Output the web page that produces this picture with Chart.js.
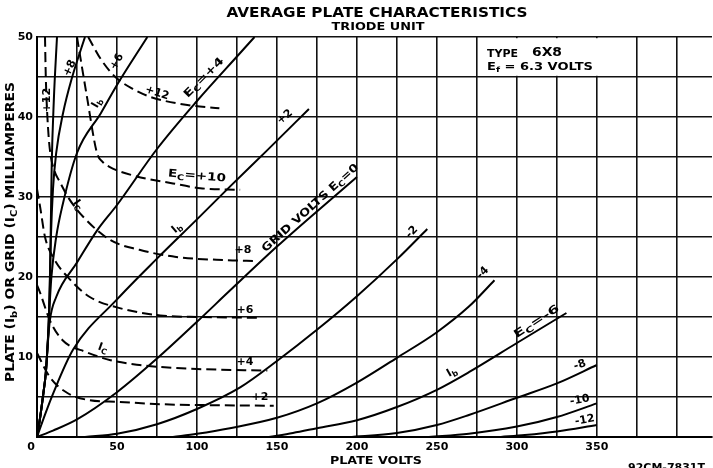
<!DOCTYPE html>
<html><head><meta charset="utf-8">
<script src="https://cdn.jsdelivr.net/npm/chart.js@4/dist/chart.umd.min.js"></script>
<style>html,body{margin:0;padding:0;background:#fff;overflow:hidden}</style>
</head><body>
<canvas id="c" width="713" height="468"></canvas>
<script>
// ---- axis ticks ----
const gridVolts = [0,25,50,75,100,125,150,175,200,225,250,275,300,325,350,375,400];
const voltLabels = [50,100,150,200,250,300,350];
const gridMa = [0,5,10,15,20,25,30,35,40,45,50];
const maLabels = [10,20,30,40,50];

// ---- plate current Ib (solid) : plate volts / milliamperes ----
const ibP12_v = [0,2,4,5.5,6.5,7.3,8,8.6,9.2,10.5,12.5];
const ibP12_i = [0,2.5,5.5,8,11,14,19,26,34,42,50];
const ibP8_v  = [0,2,4,5.5,6.5,7.3,8,8.7,10,12,16.3,22,30];
const ibP8_i  = [0,2.5,5.5,8,11,14,19,25,31,35.5,40.5,45,50];
const ibP6_v  = [0,2,4,5.5,6.5,7.5,9,12,16,25,40,50,69];
const ibP6_i  = [0,2.5,5.5,8,11,15,20,25,29,35.5,40.5,44,50];
const ibP4_v  = [0,2,4,5.5,6.5,8,12,25,37.5,50,75,100,127,136];
const ibP4_i  = [0,2.5,5.5,8,11,14.5,17.5,21.8,25.8,29,36,42,48,50];
const ibP2_v  = [0,5,10,22.5,50,75,100,120.6,143.7,170];
const ibP2_i  = [0,2.8,5.4,10.9,17.2,22.3,27.2,31.3,35.8,41];
const ib0_v   = [0,10,25,50,75,100,120.6,150,175,200];
const ib0_i   = [0,0.8,2.2,5.6,9.8,14.4,18.3,23.8,28.2,32.5];
const ibM2_v  = [30,50,75,100,127,150,175,200,225,244];
const ibM2_i  = [0,0.4,1.6,3.5,6.2,9.5,13.4,17.6,22.2,26];
const ibM4_v  = [85,100,120.6,150,175,200,225,250,270,286];
const ibM4_i  = [0,0.4,1.1,2.4,4.2,6.8,9.9,13.1,16.3,19.6];
const ibM6_v  = [145,160,175,200,225,250,270,300,331];
const ibM6_i  = [0,0.5,1.1,2.1,3.75,5.9,8.1,11.75,15.5];
const ibM8_v  = [195,225,250,270,300,325,350];
const ibM8_i  = [0,0.5,1.5,2.75,4.9,6.7,9];
const ibM10_v = [245,270,300,325,350];
const ibM10_i = [0,0.4,1.3,2.5,4.2];
const ibM12_v = [290,305,325,350];
const ibM12_i = [0,0.25,0.7,1.5];

// ---- grid current Ic (dashed) ----
const icP12_v = [32,40,49,60,71,94,114];
const icP12_i = [50,47.2,45,43.5,42.5,41.5,41.1];
const icP10_v = [25,31,37.5,41,45,60,85,102,127];
const icP10_i = [50,42.8,35.5,34.4,33.8,32.7,31.7,31.1,30.9];
const icP8_v  = [5,5.5,6.5,8,11,14,20,29,46,64,87,119,137];
const icP8_i  = [50,45,40,36,33.2,32,29.8,27.5,24.6,23.4,22.5,22.1,22];
const icP6_v  = [0,2,5,10,21,33,50,77,102,139];
const icP6_i  = [31,28.7,25,22.5,19.6,17.5,16.2,15.2,15,14.9];
const icP4_v  = [0,2,8,16,31,46,64,77,100,144];
const icP4_i  = [19,18,14.6,12.1,10.6,9.6,9,8.75,8.5,8.3];
const icP2_v  = [0,8,19,33,50,77,100,148];
const icP2_i  = [10.5,7.5,5.5,4.6,4.4,4.1,4,3.9];

const solid = [[ibP12_v,ibP12_i],[ibP8_v,ibP8_i],[ibP6_v,ibP6_i],[ibP4_v,ibP4_i],[ibP2_v,ibP2_i],[ib0_v,ib0_i],
  [ibM2_v,ibM2_i],[ibM4_v,ibM4_i],[ibM6_v,ibM6_i],[ibM8_v,ibM8_i],[ibM10_v,ibM10_i],[ibM12_v,ibM12_i]];
const dashed = [[icP12_v,icP12_i],[icP10_v,icP10_i],[icP8_v,icP8_i],[icP6_v,icP6_i],[icP4_v,icP4_i],[icP2_v,icP2_i]];

function mk(pair, dash){
  return {data: pair[0].map((v,k)=>({x:v,y:pair[1][k]})), borderColor:'#000', borderWidth:2,
    pointRadius:0, fill:false, cubicInterpolationMode:'monotone', borderDash: dash?[10,5]:[]};
}
const datasets = solid.map(p=>mk(p,false)).concat(dashed.map(p=>mk(p,true)));

const FONT = '"DejaVu Sans", sans-serif';
function drawRich(g, str, x, y, ang, size, opts){
  opts = opts||{};
  const segs=[]; let buf=''; let i=0;
  while(i<str.length){
    if(str[i]==='_'){ if(buf){segs.push({t:buf});buf='';} segs.push({t:str[i+1],sub:true}); i+=2; }
    else { buf+=str[i]; i++; }
  }
  if(buf) segs.push({t:buf});
  const F=s=>'bold '+s+'px '+FONT;
  const ss=size*0.72;
  g.save(); g.translate(x,y); g.rotate(ang*Math.PI/180);
  let tot=0; const ws=segs.map(s=>{g.font=F(s.sub?ss:size); const w=g.measureText(s.t).width; tot+=w; return w;});
  if(opts.w) g.scale(opts.w/tot,1);
  let cx = opts.left?0:-tot/2;
  g.textBaseline='middle'; g.textAlign='left'; g.fillStyle='#000';
  segs.forEach((s,k)=>{ g.font=F(s.sub?ss:size); g.fillText(s.t,cx,s.sub?size*0.3:0); cx+=ws[k]; });
  g.restore();
}

// curve labels: [text, volts, mA, angle, width]
const curveLabels = [
  ['+12',6.25,42.1,-90],['+8',20.6,46.1,-65],['+6',50,46.9,-60],['I_b',37.5,41.75,-60],
  ['+12',75,43,18],['E_C=+4',104.4,44.9,-45,52],['+2',155,40,-40],['I_C',25.6,29,55],
  ['E_C=+10',100,32.6,5,58],['I_b',87.5,26.1,-40],['+8',128.75,23.4,0],
  ['GRID VOLTS E_C=0',171,28.6,-42,126],['-2',234.4,25.6,-45],['-4',278.75,20.5,-45],
  ['+6',130,15.9,0],['I_C',41.25,11.1,20],['+4',130,9.4,0],['+2',139.4,5,0],
  ['I_b',259.4,8.1,-30],['E_C=-6',312.5,14.4,-33,52],['-8',339.4,9,-20],['-10',339.4,4.6,-10],['-12',342.5,2.1,-10]
];

const deco = {
  id:'deco',
  beforeDraw(c){ const g=c.ctx; g.save(); g.fillStyle='#fff'; g.fillRect(0,0,c.width,c.height); g.restore(); },
  beforeDatasetsDraw(c){
    const x=c.scales.x, y=c.scales.y, g=c.ctx;
    g.save(); g.fillStyle='#fff';
    const l=x.getPixelForValue(275)+1.2, r=x.getPixelForValue(375)-1.2, t=y.getPixelForValue(50)+1.2, b=y.getPixelForValue(45)-1.2;
    g.fillRect(l,t,r-l,b-t); g.restore();
  },
  afterDraw(c){
    const x=c.scales.x, y=c.scales.y, g=c.ctx;
    curveLabels.forEach(L=>drawRich(g,L[0],x.getPixelForValue(L[1]),y.getPixelForValue(L[2]),L[3],11,L[4]?{w:L[4]}:{}));
    drawRich(g,'AVERAGE PLATE CHARACTERISTICS',377,13,0,14,{w:301});
    drawRich(g,'TRIODE UNIT',378,27,0,11,{w:93});
    drawRich(g,'PLATE VOLTS',376,461,0,11,{w:92});
    drawRich(g,'PLATE (I_b) OR GRID (I_C) MILLIAMPERES',11,232,-90,12,{w:300});
    drawRich(g,'0',31,447,0,11);
    drawRich(g,'TYPE',487,54,0,10,{left:true,w:31});
    drawRich(g,'6X8',532,53,0,13,{left:true,w:30});
    drawRich(g,'E_f = 6.3 VOLTS',487,67,0,10,{left:true,w:106});
    g.save(); g.font='bold 11px '+FONT; g.fillStyle='#000'; g.textBaseline='top'; g.fillText('92CM-7831T',628,463); g.restore();
  }
};

new Chart(document.getElementById('c'), {
  type:'line',
  data:{datasets},
  options:{
    responsive:false, animation:false, devicePixelRatio:1,
    layout:{padding:{top:37,right:1,left:0,bottom:0}},
    plugins:{legend:{display:false},tooltip:{enabled:false},title:{display:false}},
    scales:{
      x:{type:'linear',min:0,max:422,
        afterFit:s=>{s.height=31;},
        afterBuildTicks:s=>{s.ticks=gridVolts.map(v=>({value:v}));},
        ticks:{autoSkip:false,maxRotation:0,minRotation:0,padding:4,color:'#000',font:{family:FONT,size:11,weight:'bold'},
          callback:v=>voltLabels.includes(v)?String(v):''},
        grid:{color:'#111',lineWidth:1.6,drawTicks:false},
        border:{color:'#000',width:2}
      },
      y:{type:'linear',min:0,max:50,
        afterFit:s=>{s.width=37;},
        afterBuildTicks:s=>{s.ticks=gridMa.map(v=>({value:v}));},
        ticks:{autoSkip:false,padding:4,color:'#000',font:{family:FONT,size:11,weight:'bold'},
          callback:v=>maLabels.includes(v)?String(v):''},
        grid:{color:'#111',lineWidth:1.6,drawTicks:false},
        border:{color:'#000',width:2}
      }
    }
  },
  plugins:[deco]
});
</script>
</body></html>
